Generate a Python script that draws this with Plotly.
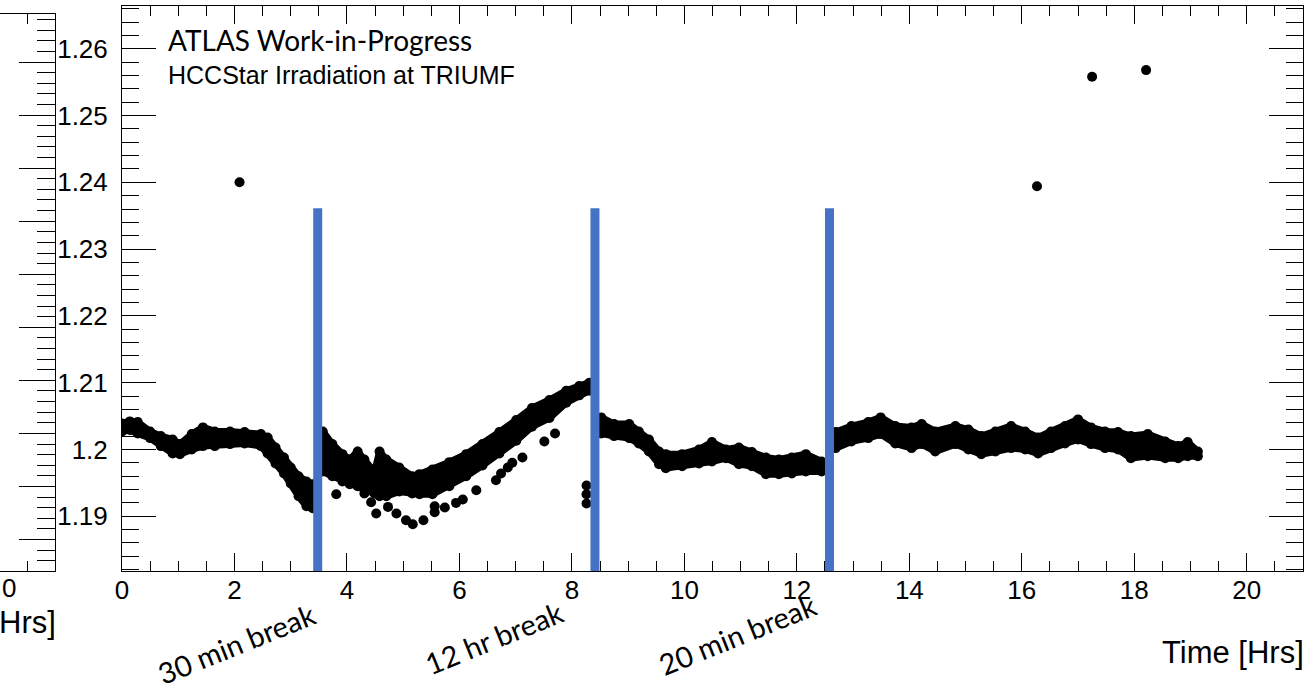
import plotly.graph_objects as go

# ---------------- data ----------------
# band before the 30 min break
seg1_time = [0.00, 0.14, 0.28, 0.50, 0.69, 0.90, 1.03, 1.24, 1.44, 1.65, 1.92, 2.18,
             2.47, 2.59, 2.73, 2.88, 3.00, 3.14, 3.28, 3.39]
seg1_upper = [1.2039, 1.2042, 1.2041, 1.2027, 1.2020, 1.2015, 1.2008, 1.2023, 1.2033, 1.2027,
              1.2027, 1.2026, 1.2023, 1.2018, 1.2003, 1.1988, 1.1973, 1.1960, 1.1952, 1.1948]
seg1_lower = [1.2027, 1.2029, 1.2024, 1.2017, 1.2005, 1.1994, 1.1993, 1.2000, 1.2005, 1.2005,
              1.2008, 1.2009, 1.2005, 1.1994, 1.1979, 1.1964, 1.1949, 1.1930, 1.1915, 1.1912]

# band between the 30 min and 12 hr breaks
seg2_time = [3.57, 3.74, 3.92, 4.05, 4.19, 4.31, 4.49, 4.58, 4.70, 4.93, 5.16, 5.29,
             5.52, 5.82, 6.12, 6.41, 6.71, 7.01, 7.29, 7.60, 7.90, 8.13, 8.31]
seg2_upper = [1.2027, 1.2008, 1.1993, 1.1985, 1.1997, 1.1985, 1.1966, 1.1997, 1.1985, 1.1973,
              1.1960, 1.1963, 1.1970, 1.1981, 1.1993, 1.2008, 1.2026, 1.2044, 1.2062, 1.2074,
              1.2088, 1.2095, 1.2100]
seg2_lower = [1.1967, 1.1960, 1.1952, 1.1948, 1.1945, 1.1940, 1.1934, 1.1930, 1.1930, 1.1937,
              1.1934, 1.1933, 1.1933, 1.1945, 1.1960, 1.1976, 1.1994, 1.2013, 1.2034, 1.2047,
              1.2070, 1.2081, 1.2088]

# band between the 12 hr and 20 min breaks
seg3_time = [8.52, 8.75, 9.02, 9.19, 9.37, 9.55, 9.67, 9.96, 10.26, 10.49, 10.74, 10.97,
             11.20, 11.45, 11.68, 11.91, 12.16, 12.44]
seg3_upper = [1.2048, 1.2038, 1.2038, 1.2027, 1.2015, 1.1997, 1.1993, 1.1993, 1.2000, 1.2011,
              1.2000, 1.2003, 1.1996, 1.1988, 1.1985, 1.1988, 1.1993, 1.1982]
seg3_lower = [1.2024, 1.2020, 1.2017, 1.2009, 1.1997, 1.1978, 1.1972, 1.1975, 1.1979, 1.1982,
              1.1987, 1.1978, 1.1975, 1.1963, 1.1963, 1.1964, 1.1967, 1.1967]

# band after the 20 min break
seg4_time = [12.69, 12.97, 13.27, 13.49, 13.75, 14.04, 14.22, 14.46, 14.82, 15.05, 15.28,
             15.53, 15.81, 16.06, 16.29, 16.52, 16.77, 17.00, 17.23, 17.48, 17.71, 17.94,
             18.24, 18.55, 18.78, 18.95, 19.13]
seg4_upper = [1.2026, 1.2035, 1.2041, 1.2048, 1.2035, 1.2033, 1.2038, 1.2027, 1.2035, 1.2030,
              1.2020, 1.2027, 1.2035, 1.2027, 1.2018, 1.2027, 1.2035, 1.2045, 1.2033, 1.2027,
              1.2026, 1.2020, 1.2023, 1.2012, 1.2005, 1.2011, 1.1997]
seg4_lower = [1.2002, 1.2012, 1.2017, 1.2023, 1.2009, 1.2002, 1.2008, 1.1997, 1.2008, 1.2000,
              1.1993, 1.1997, 1.2002, 1.2000, 1.1994, 1.2002, 1.2009, 1.2015, 1.2008, 1.2002,
              1.2000, 1.1987, 1.1990, 1.1987, 1.1987, 1.1990, 1.1990]

# sparse lower branch during the 12 hr stretch
branch_time = [3.81, 4.31, 4.43, 4.52, 4.73, 4.88, 5.05, 5.17, 5.36, 5.56, 5.56, 5.74,
               5.94, 6.06, 6.30, 6.65, 6.74, 6.86, 6.94, 7.12, 7.51, 7.70]
branch_value = [1.1933, 1.1934, 1.1921, 1.1904, 1.1914, 1.1904, 1.1894, 1.1888, 1.1894, 1.1906,
                1.1915, 1.1913, 1.1920, 1.1925, 1.1939, 1.1954, 1.1964, 1.1973, 1.1980, 1.1988,
                1.2012, 1.2024]

# short cluster just before the 12 hr break
cluster_time = [8.26, 8.26, 8.26]
cluster_value = [1.1946, 1.1933, 1.1919]

# isolated points
outlier_time = [2.09, 16.27, 17.25, 18.21]
outlier_value = [1.2400, 1.2394, 1.2558, 1.2568]

break_times = [3.48, 8.41, 12.58]
break_labels = ["30 min break", "12 hr break", "20 min break"]
break_top = 1.2361

x_tickvals = [0, 2, 4, 6, 8, 10, 12, 14, 16, 18, 20]
x_ticktext = ["0", "2", "4", "6", "8", "10", "12", "14", "16", "18", "20"]
y_tickvals = [1.19, 1.20, 1.21, 1.22, 1.23, 1.24, 1.25, 1.26]
y_ticktext = ["1.19", "1.2", "1.21", "1.22", "1.23", "1.24", "1.25", "1.26"]

x_range = [0, 21]
y_range = [1.1818, 1.2664]

# ---------------- figure ----------------
W, H = 1309, 693
fig = go.Figure()

segments = [(seg1_time, seg1_upper, seg1_lower),
            (seg2_time, seg2_upper, seg2_lower),
            (seg3_time, seg3_upper, seg3_lower),
            (seg4_time, seg4_upper, seg4_lower)]
for t, up, lo in segments:
    fig.add_trace(go.Scatter(x=t + t[::-1] + t[:1], y=up + lo[::-1] + up[:1], mode="lines",
                             fill="toself", fillcolor="black",
                             line=dict(width=7, color="black"),
                             hoverinfo="skip", showlegend=False))
    fig.add_trace(go.Scatter(x=t + t, y=up + lo, mode="markers",
                             marker=dict(size=10, color="black", line=dict(width=0)),
                             showlegend=False))

for t, v in [(branch_time, branch_value), (cluster_time, cluster_value),
             (outlier_time, outlier_value)]:
    fig.add_trace(go.Scatter(x=t, y=v, mode="markers",
                             marker=dict(size=10, color="black", line=dict(width=0)),
                             showlegend=False))

# invisible trace to activate the partial neighbouring frame on the left
fig.add_trace(go.Scatter(x=[20.5], y=[5], mode="markers", marker=dict(opacity=0),
                         xaxis="x2", yaxis="y2", showlegend=False, hoverinfo="skip"))

tick_font = dict(family="Liberation Sans, Arial, sans-serif", size=26, color="black")
title_font = dict(family="Liberation Sans, Arial, sans-serif", size=31, color="black")

fig.update_layout(
    width=W, height=H,
    margin=dict(l=0, r=0, t=0, b=0, autoexpand=False),
    paper_bgcolor="white", plot_bgcolor="white",
    showlegend=False,
    xaxis=dict(domain=[122 / W, 1303 / W], range=x_range, tickmode="array",
               tickvals=x_tickvals, ticktext=x_ticktext, ticks="inside", ticklen=18,
               tickwidth=1, tickcolor="black", showline=True, linecolor="black",
               linewidth=1, mirror="ticks", showgrid=False, zeroline=False,
               tickfont=tick_font, anchor="y", automargin=False,
               minor=dict(tickmode="linear", tick0=0, dtick=0.5, ticks="inside",
                          ticklen=10, tickcolor="black", tickwidth=1, showgrid=False)),
    yaxis=dict(domain=[(H - 571) / H, (H - 6) / H], range=y_range, tickmode="array",
               tickvals=y_tickvals, ticktext=y_ticktext, ticks="inside", ticklen=34,
               tickwidth=1, tickcolor="black", showline=True, linecolor="black",
               linewidth=1, mirror="ticks", showgrid=False, zeroline=False,
               tickfont=tick_font, anchor="x", ticklabelstandoff=8, automargin=False,
               minor=dict(tickmode="linear", tick0=1.18, dtick=0.002, ticks="inside",
                          ticklen=17, tickcolor="black", tickwidth=1, showgrid=False)),
    xaxis2=dict(domain=[0, 55 / W], range=[19.99, 21], tickmode="array",
                tickvals=[20], ticks="inside", ticklen=18, showticklabels=False,
                tickcolor="black", showline=True, linecolor="black", linewidth=1,
                mirror="ticks", showgrid=False, zeroline=False,
                anchor="y2", automargin=False,
                minor=dict(tickmode="linear", tick0=0, dtick=0.5, ticks="inside",
                           ticklen=10, tickcolor="black", showgrid=False)),
    yaxis2=dict(domain=[(H - 571) / H, (H - 14) / H], range=[-0.594, 9.906],
                side="right", dtick=1, ticks="inside", ticklen=36, tickcolor="black",
                showline=True, linecolor="black", linewidth=1, showticklabels=False,
                showgrid=False, zeroline=False, anchor="x2", automargin=False,
                minor=dict(dtick=0.2, ticks="inside", ticklen=18, tickcolor="black",
                           showgrid=False)),
)
try:
    fig.update_layout(xaxis_ticklabelstandoff=-4)
except Exception:
    pass

shapes = []
for b in break_times:
    shapes.append(dict(type="line", xref="x", yref="y", x0=b, x1=b,
                       y0=break_top, y1=y_range[0],
                       line=dict(color="#4472C4", width=9), layer="above"))
fig.update_layout(shapes=shapes)

annotations = [
    dict(text="ATLAS Work-in-Progress", xref="paper", yref="paper",
         x=166 / W, y=1 - 40 / H, xanchor="left", yanchor="middle", showarrow=False,
         font=dict(family="Lato, Open Sans, sans-serif", size=28, color="black")),
    dict(text="HCCStar Irradiation at TRIUMF", xref="paper", yref="paper",
         x=166 / W, y=1 - 75 / H, xanchor="left", yanchor="middle", showarrow=False,
         font=dict(family="Liberation Sans, Arial, sans-serif", size=25, color="black")),
    dict(text="Time [Hrs]", xref="paper", yref="paper",
         x=1306 / W, y=1 - 652 / H, xanchor="right", yanchor="middle", showarrow=False,
         font=title_font),
    # pieces of the neighbouring panel that are visible at the left edge
    dict(text="Hrs]", xref="paper", yref="paper",
         x=58 / W, y=1 - 622 / H, xanchor="right", yanchor="middle", showarrow=False,
         font=title_font),
    dict(text="0", xref="paper", yref="paper",
         x=0, y=1 - 588 / H, xanchor="left", yanchor="middle", showarrow=False,
         font=tick_font),
]
label_centres = [(236, 643), (494, 637), (737, 634)]
for lab, (cx, cy) in zip(break_labels, label_centres):
    annotations.append(dict(text=lab, xref="paper", yref="paper", x=cx / W, y=1 - cy / H,
                            xanchor="center", yanchor="middle", showarrow=False,
                            textangle=-22,
                            font=dict(family="Lato, Open Sans, sans-serif", size=29,
                                      color="black")))
fig.update_layout(annotations=annotations)

fig.write_html("out.html")
